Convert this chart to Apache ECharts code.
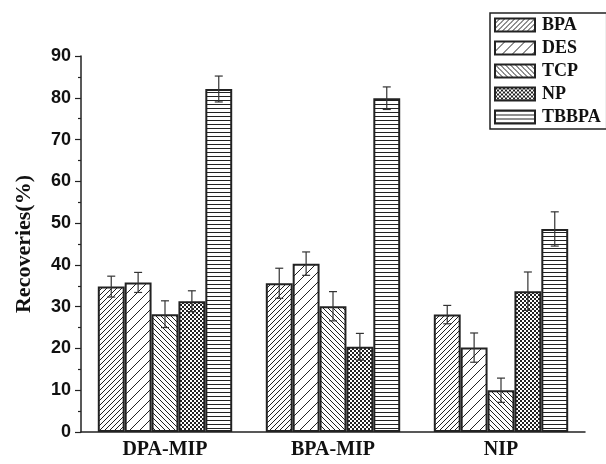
<!DOCTYPE html>
<html>
<head>
<meta charset="utf-8">
<script src="https://cdn.jsdelivr.net/npm/echarts@6/dist/echarts.min.js"></script>
<style>html,body{margin:0;padding:0;background:#fff;}#chart{width:606px;height:464px;}</style>
</head>
<body>
<div id="chart"></div>
<script>
const categories = ['DPA-MIP', 'BPA-MIP', 'NIP'];
const seriesNames = ['BPA', 'DES', 'TCP', 'NP', 'TBBPA'];
const BPA = [34.8, 35.6, 28.1];
const DES = [35.8, 40.3, 20.2];
const TCP = [28.2, 30.1, 10.0];
const NP = [31.3, 20.4, 33.7];
const TBBPA = [82.1, 79.9, 48.6];
const BPA_err = [2.5, 3.6, 2.2];
const DES_err = [2.4, 2.8, 3.5];
const TCP_err = [3.2, 3.5, 2.9];
const NP_err = [2.5, 3.2, 4.6];
const TBBPA_err = [3.1, 2.7, 4.1];
const yTicks = [0, 10, 20, 30, 40, 50, 60, 70, 80, 90];

const values = [BPA, DES, TCP, NP, TBBPA];
const errors = [BPA_err, DES_err, TCP_err, NP_err, TBBPA_err];

function makePattern(type) {
  let s = 5;
  if (type === 'sparse') s = 10;
  if (type === 'horiz' || type === 'check') s = 4;
  const c = document.createElement('canvas');
  c.width = s; c.height = s;
  const g = c.getContext('2d');
  g.fillStyle = '#fff';
  g.fillRect(0, 0, s, s);
  g.strokeStyle = '#222';
  g.fillStyle = '#222';
  g.lineWidth = 1;
  if (type === 'fwd' || type === 'sparse') {
    g.beginPath();
    for (let k = -1; k <= 1; k++) { g.moveTo(k * s, s); g.lineTo(k * s + s, 0); }
    g.stroke();
  } else if (type === 'back') {
    g.beginPath();
    for (let k = -1; k <= 1; k++) { g.moveTo(k * s, 0); g.lineTo(k * s + s, s); }
    g.stroke();
  } else if (type === 'horiz') {
    g.fillRect(0, 0, s, 1);
  } else if (type === 'check') {
    g.fillRect(0, 0, 2, 2);
    g.fillRect(2, 2, 2, 2);
  }
  return { image: c, repeat: 'repeat' };
}
const patterns = [makePattern('fwd'), makePattern('sparse'), makePattern('back'), makePattern('check'), makePattern('horiz')];

const series = [];
seriesNames.forEach((n, i) => {
  series.push({
    name: n,
    type: 'bar',
    xAxisIndex: 0,
    barGap: '0%',
    barCategoryGap: '20%',
    data: values[i],
    itemStyle: { color: patterns[i], borderColor: '#222', borderWidth: 2 },
    emphasis: { disabled: true }
  });
});
seriesNames.forEach((n, i) => {
  series.push({
    name: n + '_err',
    type: 'custom',
    xAxisIndex: 0,
    z: 5,
    data: values[i].map((v, k) => [k, v, errors[i][k]]),
    renderItem: function (params, api) {
      const x = api.value(0), v = api.value(1), e = api.value(2);
      const c = api.coord([x, v]);
      const bw = api.size([1, 0])[0] * 0.8 / 5;
      const cx = c[0] + (i - 2) * bw;
      const top = api.coord([x, v + e])[1];
      const bot = api.coord([x, v - e])[1];
      const cap = 4;
      const st = { stroke: '#333', lineWidth: 1.2 };
      return {
        type: 'group',
        children: [
          { type: 'line', shape: { x1: cx, y1: top, x2: cx, y2: bot }, style: st },
          { type: 'line', shape: { x1: cx - cap, y1: top, x2: cx + cap, y2: top }, style: st },
          { type: 'line', shape: { x1: cx - cap, y1: bot, x2: cx + cap, y2: bot }, style: st }
        ]
      };
    }
  });
});

const chart = echarts.init(document.getElementById('chart'), null, { renderer: 'canvas' });
chart.setOption({
  animation: false,
  backgroundColor: '#fff',
  grid: { left: 81, right: 21, top: 56, bottom: 32, containLabel: false },
  legend: {
    data: seriesNames,
    orient: 'vertical',
    left: 490,
    top: 13,
    itemWidth: 40,
    itemHeight: 13,
    itemGap: 5,
    icon: 'rect',
    padding: [3, 6, 3, 4],
    borderColor: '#222',
    borderWidth: 1.5,
    textStyle: { fontFamily: 'Liberation Serif', fontWeight: 'bold', fontSize: 18, color: '#111', padding: [0, 0, 0, 2] }
  },
  xAxis: [
    {
      type: 'category',
      data: categories,
      axisLine: { lineStyle: { color: '#222', width: 1.5 } },
      axisTick: { alignWithLabel: true, length: 7, lineStyle: { color: '#222', width: 1.2 } },
      axisLabel: { fontFamily: 'Liberation Serif', fontWeight: 'bold', fontSize: 20, color: '#111', margin: 8 }
    },
    {
      type: 'category',
      data: categories,
      position: 'bottom',
      axisLine: { show: false },
      axisTick: { length: 4, lineStyle: { color: '#222', width: 1.2 } },
      axisLabel: { show: false }
    }
  ],
  yAxis: {
    type: 'value',
    min: yTicks[0],
    max: yTicks[yTicks.length - 1],
    interval: 10,
    name: 'Recoveries(%)',
    nameLocation: 'middle',
    nameGap: 46,
    nameTextStyle: { fontFamily: 'Liberation Serif', fontWeight: 'bold', fontSize: 22, color: '#111' },
    axisLine: { show: true, lineStyle: { color: '#222', width: 1.5 } },
    axisTick: { show: true, length: 6, lineStyle: { color: '#222', width: 1.2 } },
    minorTick: { show: true, splitNumber: 2, length: 3, lineStyle: { color: '#222', width: 1.2 } },
    splitLine: { show: false },
    axisLabel: { fontFamily: 'Liberation Sans', fontWeight: 'bold', fontSize: 18, color: '#111', margin: 10 }
  },
  series: series
});
</script>
</body>
</html>
